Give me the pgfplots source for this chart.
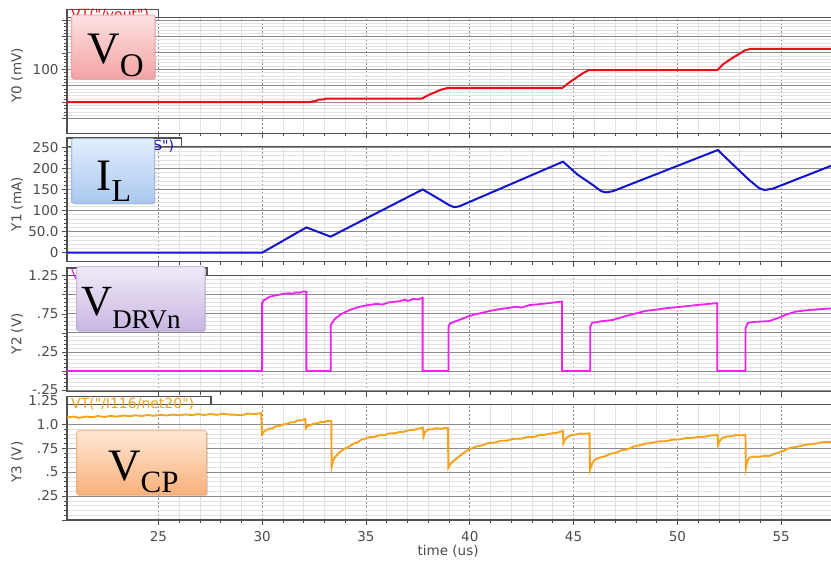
\documentclass[border=0pt]{standalone}
\usepackage{pgfplots}
\pgfplotsset{compat=1.18}
\usepackage{fontspec}
\setmainfont{DejaVu Sans}
\newfontfamily\plainsans{DejaVu Sans}[Ligatures=TeXOff]
\newfontfamily\serif{Liberation Serif}
\usetikzlibrary{shadows}

\definecolor{frame}{HTML}{505050}
\definecolor{majg}{HTML}{8C8C8C}
\definecolor{ming}{HTML}{E2E2E2}
\definecolor{txt}{HTML}{4A4A4A}
\definecolor{cO}{HTML}{E8101A}
\definecolor{cL}{HTML}{1414CC}
\definecolor{cD}{HTML}{EE22EE}
\definecolor{cC}{HTML}{F5A31A}
\definecolor{tO}{HTML}{FDE2E2}\definecolor{bO}{HTML}{F3A3A3}\definecolor{eO}{HTML}{E89A9A}
\definecolor{tL}{HTML}{E3EEFC}\definecolor{bL}{HTML}{A9C8F0}\definecolor{eL}{HTML}{8CB0E0}
\definecolor{tD}{HTML}{F0EAF7}\definecolor{bD}{HTML}{C8B7E2}\definecolor{eD}{HTML}{B3A2D4}
\definecolor{tC}{HTML}{FEE8D4}\definecolor{bC}{HTML}{F9B07A}\definecolor{eC}{HTML}{F2A46A}

\pgfplotsset{
  panel/.style={
    scale only axis, width=770pt, xmin=20.6, xmax=57.69,
    anchor=north west,
    axis line style={frame, line width=1.3pt},
    grid=both,
    major x grid style={majg, dash pattern=on 2pt off 2pt, line width=0.6pt},
    major y grid style={majg, line width=0.8pt},
    minor grid style={ming, line width=0.6pt},
    xtick={25,30,...,55}, minor x tick num=4, minor y tick num=4,
    tick style={frame, line width=0.6pt},
    major tick length=5pt, minor tick length=3pt,
    tick align=outside, tickpos=left,
    ticklabel style={font=\fontsize{13.5}{14}\selectfont, text=txt},
    label style={font=\fontsize{13.5}{14}\selectfont, text=txt},
    ylabel style={at={(axis description cs:-0.0649,0.5)}, anchor=center},
    xticklabels={},
  },
}
\tikzset{
  box/.style={rounded corners=1.5pt, line width=0.6pt,
    drop shadow={opacity=0.25, shadow xshift=1.2pt, shadow yshift=-1.2pt}},
  tabtext/.style={anchor=base west, inner sep=0, font=\plainsans\fontsize{14}{14}\selectfont},
}

\begin{document}
\begin{tikzpicture}
\useasboundingbox (0,0) rectangle (831pt,-562pt);

% tabs
\draw[frame, line width=1.3pt, fill=white] (67pt,-17.3pt) -- (67pt,-9.3pt) -- (158.3pt,-9.3pt) -- (158.3pt,-17.3pt);
\draw[frame, line width=1.3pt, fill=white] (67pt,-146.7pt) -- (67pt,-138pt) -- (181.7pt,-138pt) -- (181.7pt,-146.7pt);
\draw[frame, line width=1.3pt, fill=white] (67pt,-275.7pt) -- (67pt,-268pt) -- (207pt,-268pt) -- (207pt,-275.7pt);
\draw[frame, line width=1.3pt, fill=white] (67pt,-404.3pt) -- (67pt,-396.7pt) -- (211pt,-396.7pt) -- (211pt,-404.3pt);

% Panel 1: VO
\begin{axis}[panel, at={(67pt,-17.3pt)}, height=116pt,
  ymin=22.1, ymax=163.3, ytick={40,60,...,160}, yticklabels={,,,100,,,},
  ylabel={Y0 (mV)}]
\addplot[cO, line width=2pt] coordinates {
(20.6,60) (32.25,60) (32.45,61) (32.6,61.5) (32.7,63) (33.0,63.5) (33.05,64.2) (37.68,64.2)
(38.0,68.5) (38.3,71.8) (38.6,75) (38.95,77.4) (44.46,77.4) (44.8,84) (45.2,91) (45.5,96)
(45.73,98.9) (51.92,98.9) (52.2,106) (52.6,113) (53.0,119) (53.25,123) (53.53,124.9) (57.7,124.9)};
\end{axis}

% Panel 2: IL
\begin{axis}[panel, at={(67pt,-146.7pt)}, height=115pt,
  ymin=-21.4, ymax=251.5, ytick={0,50,...,250}, yticklabels={0,50.0,100,150,200,250},
  ylabel={Y1 (mA)}]
\addplot[cL, line width=2pt] coordinates {
(20.6,0) (30.0,0) (32.13,60) (33.3,38) (37.73,150) (38.5,128) (39.0,113) (39.25,108) (39.5,110)
(44.49,216) (45.2,185) (45.93,160.6) (46.33,146) (46.57,143) (46.9,146) (51.95,243.6)
(52.7,208) (53.47,172) (53.95,152.7) (54.2,148.7) (54.6,152) (57.38,205.6) (57.7,211.5)};
\end{axis}

% Panel 3: VDRVn
\begin{axis}[panel, at={(67pt,-275.7pt)}, height=116pt,
  ymin=-0.272, ymax=1.25, ytick={-0.25,0,0.25,0.5,0.75,1,1.25},
  yticklabels={-.25,,.25,,.75,,1.25}, ylabel={Y2 (V)}]
\addplot[cD, line width=1.8pt] coordinates {
(20.6,0) (30.0,0) (30.0,0.896) (30.1,0.93) (30.37,0.975) (30.7,0.995) (31.0,1.01) (31.3,1.02)
(31.5,1.014) (31.6,1.03) (31.8,1.026) (32.0,1.044) (32.13,1.04) (32.13,0) (33.3,0)
(33.3,0.603) (33.49,0.68) (33.8,0.745) (34.21,0.80) (34.6,0.835) (35.0,0.86) (35.5,0.88)
(35.8,0.872) (36.1,0.90) (36.6,0.915) (36.9,0.935) (37.0,0.918) (37.3,0.945) (37.5,0.938)
(37.73,0.96) (37.73,0) (38.98,0) (38.98,0.58) (39.05,0.625) (39.5,0.67) (39.97,0.72)
(40.3,0.745) (40.7,0.77) (41.0,0.79) (41.41,0.81) (41.8,0.825) (42.2,0.842) (42.5,0.832)
(42.88,0.865) (43.3,0.875) (43.81,0.89) (44.1,0.9) (44.44,0.91) (44.44,0) (45.8,0)
(45.8,0.58) (45.9,0.633) (46.3,0.65) (46.9,0.67) (47.5,0.72) (48.0,0.755) (48.5,0.79)
(49.0,0.805) (49.5,0.825) (50.1,0.84) (50.6,0.855) (51.1,0.87) (51.5,0.88) (51.92,0.89)
(51.92,0) (53.28,0) (53.28,0.56) (53.4,0.633) (53.8,0.645) (54.44,0.655) (54.9,0.70)
(55.3,0.745) (55.72,0.78) (56.2,0.795) (56.8,0.81) (57.38,0.82) (57.7,0.823)};
\end{axis}

% Panel 4: VCP
\begin{axis}[panel, at={(67pt,-404.3pt)}, height=115.7pt,
  ymin=0, ymax=1.209, ytick={0,0.25,0.5,0.75,1}, yticklabels={,.25,.5,.75,1.0},
  ylabel={Y3 (V)}, xticklabels={25,30,35,40,45,50,55},
  xticklabel style={yshift=-3pt},
  xlabel={time (us)}, xlabel style={at={(axis description cs:0.495,0)}, anchor=center, yshift=-31pt}]
\addplot[cC, line width=1.9pt] coordinates {
(20.6,1.072) (20.9,1.080) (21.2,1.068) (21.5,1.081) (21.8,1.074) (22.1,1.086) (22.4,1.077)
(22.7,1.088) (23.0,1.080) (23.3,1.092) (23.6,1.084) (23.9,1.094) (24.2,1.087) (24.5,1.097)
(24.8,1.089) (25.1,1.099) (25.4,1.092) (25.7,1.102) (26.0,1.094) (26.3,1.104) (26.6,1.096)
(26.9,1.106) (27.2,1.098) (27.5,1.107) (27.8,1.099) (28.1,1.109) (28.4,1.102) (28.7,1.100)
(29.0,1.094) (29.3,1.112) (29.6,1.106) (29.95,1.116)
(30.0,0.895) (30.1,0.925) (30.3,0.952) (30.5,0.958) (30.64,0.978) (30.85,0.982) (31.0,0.998)
(31.2,1.005) (31.4,1.021) (31.55,1.022) (31.7,1.039) (31.9,1.042) (32.08,1.055)
(32.1,0.958) (32.2,0.983) (32.3,0.989) (32.45,1.005) (32.6,1.009) (32.8,1.023) (33.0,1.025)
(33.15,1.036) (33.33,1.035)
(33.35,0.557) (33.42,0.62) (33.52,0.66) (33.65,0.69) (33.8,0.72) (33.95,0.743) (34.16,0.763)
(34.4,0.798) (34.6,0.812) (34.8,0.843) (35.0,0.852) (35.2,0.866) (35.4,0.868) (35.7,0.889)
(35.9,0.886) (36.1,0.904) (36.4,0.905) (36.6,0.919) (36.8,0.921) (37.1,0.939) (37.3,0.941)
(37.5,0.954) (37.75,0.965)
(37.77,0.87) (37.85,0.92) (38.0,0.947) (38.2,0.948) (38.4,0.960) (38.6,0.951) (38.8,0.962)
(38.95,0.958)
(38.97,0.547) (39.1,0.595) (39.28,0.627) (39.5,0.665) (39.7,0.70) (39.9,0.728) (40.08,0.747)
(40.3,0.768) (40.6,0.779) (40.88,0.803) (41.2,0.809) (41.5,0.828) (41.8,0.829) (42.1,0.848)
(42.5,0.851) (42.8,0.868) (43.1,0.869) (43.36,0.888) (43.6,0.890) (43.9,0.903) (44.2,0.912)
(44.49,0.93)
(44.51,0.80) (44.6,0.845) (44.73,0.87) (44.9,0.888) (45.1,0.892) (45.3,0.903) (45.5,0.900)
(45.77,0.906)
(45.79,0.522) (45.9,0.59) (46.01,0.627) (46.2,0.648) (46.5,0.665) (46.8,0.693) (47.06,0.704)
(47.3,0.728) (47.6,0.739) (47.9,0.768) (48.18,0.781) (48.5,0.798) (48.8,0.807) (49.1,0.821)
(49.4,0.823) (49.79,0.839) (50.1,0.842) (50.4,0.855) (50.7,0.857) (51.0,0.868) (51.3,0.869)
(51.6,0.883) (51.94,0.888)
(51.96,0.784) (52.05,0.83) (52.19,0.86) (52.4,0.873) (52.6,0.875) (52.8,0.887) (53.0,0.885)
(53.28,0.888)
(53.30,0.54) (53.38,0.62) (53.47,0.651) (53.7,0.663) (54.0,0.662) (54.2,0.671) (54.44,0.670)
(54.7,0.693) (55.0,0.712) (55.4,0.752) (55.8,0.767) (56.2,0.787) (56.6,0.795) (57.0,0.813)
(57.38,0.816) (57.7,0.825)};
\end{axis}

% trace names in tabs
\node[tabtext, text=cO] at (71pt,-19.5pt) {VT("/vout")};
\node[tabtext, text=cL] at (71pt,-150pt) {I("/I116/PLUS")};
\node[tabtext, text=cD] at (71pt,-279pt) {VT("/I116/DRVn")};
\node[tabtext, text=cC] at (71pt,-408.5pt) {VT("/I116/net20")};
\node[anchor=east, text=txt, font=\fontsize{13.5}{14}\selectfont] at (62pt,-400.5pt) {1.25};

% label boxes
\draw[box, draw=eO, top color=tO, bottom color=bO] (71.7pt,-15pt) rectangle (155pt,-79pt);
\node[anchor=base west, inner sep=0] at (87.3pt,-63.3pt) {\fontsize{45}{45}\serif V\raisebox{-13pt}{\fontsize{33}{33}\selectfont O}};

\draw[box, draw=eL, top color=tL, bottom color=bL] (71.7pt,-138.3pt) rectangle (154.3pt,-203.3pt);
\node[anchor=base west, inner sep=0] at (96.5pt,-190pt) {\fontsize{45}{45}\serif I\raisebox{-11pt}{\fontsize{32}{32}\selectfont L}};

\draw[box, draw=eD, top color=tD, bottom color=bD] (76.7pt,-266.7pt) rectangle (205pt,-331pt);
\node[anchor=base west, inner sep=0] at (81pt,-315pt) {\fontsize{43}{43}\serif V\raisebox{-13pt}{\fontsize{27}{27}\selectfont DRVn}};

\draw[box, draw=eC, top color=tC, bottom color=bC] (76.7pt,-430.7pt) rectangle (206.7pt,-495pt);
\node[anchor=base west, inner sep=0] at (108pt,-480pt) {\fontsize{45}{45}\serif V\raisebox{-12pt}{\fontsize{31}{31}\selectfont CP}};
\end{tikzpicture}
\end{document}
